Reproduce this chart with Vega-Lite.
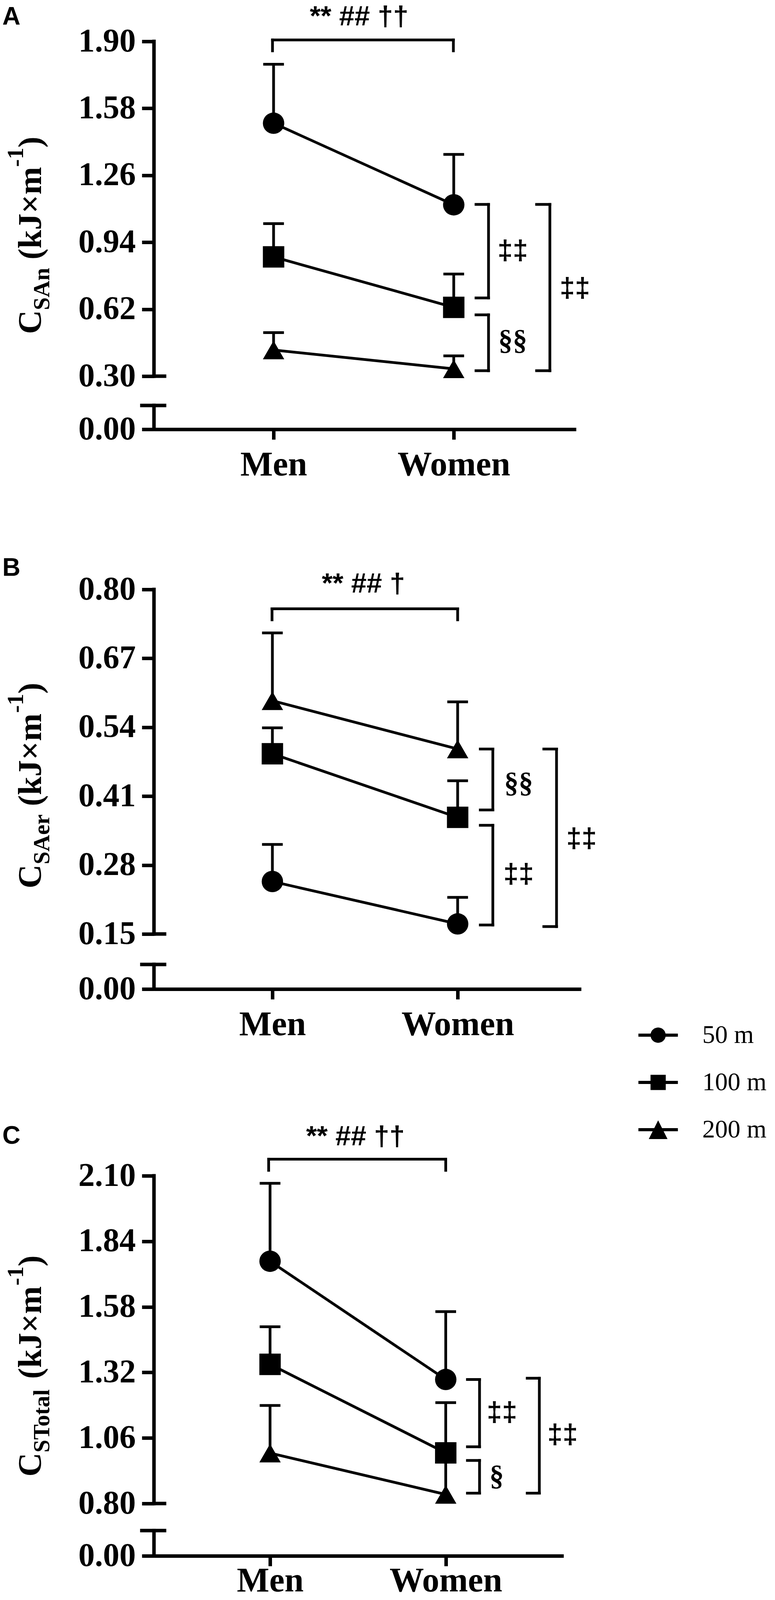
{
  "$schema": "https://vega.github.io/schema/vega-lite/v6.json",
  "background": "white",
  "padding": {"left": 5, "top": 8, "right": 0, "bottom": 0},
  "config": {
    "view": {"stroke": null},
    "axis": {"grid": false, "domainColor": "black", "tickColor": "black", "labelColor": "black", "labelFont": "Liberation Serif", "labelFontWeight": "bold", "labelFlush": false, "labelOverlap": false, "labelBound": false, "labelLimit": 0}
  },
  "datasets": {
    "pts": [
      {"panel": "A", "dist": "50 m", "grp": 1, "sex": "Men", "mean": 1.509, "upper": 1.791},
      {"panel": "A", "dist": "50 m", "grp": 2, "sex": "Women", "mean": 1.119, "upper": 1.36},
      {"panel": "A", "dist": "100 m", "grp": 1, "sex": "Men", "mean": 0.87, "upper": 1.029},
      {"panel": "A", "dist": "100 m", "grp": 2, "sex": "Women", "mean": 0.629, "upper": 0.788},
      {"panel": "A", "dist": "200 m", "grp": 1, "sex": "Men", "mean": 0.425, "upper": 0.508},
      {"panel": "A", "dist": "200 m", "grp": 2, "sex": "Women", "mean": 0.335, "upper": 0.397},
      {"panel": "B", "dist": "50 m", "grp": 1, "sex": "Men", "mean": 0.249, "upper": 0.319},
      {"panel": "B", "dist": "50 m", "grp": 2, "sex": "Women", "mean": 0.169, "upper": 0.219},
      {"panel": "B", "dist": "100 m", "grp": 1, "sex": "Men", "mean": 0.49, "upper": 0.539},
      {"panel": "B", "dist": "100 m", "grp": 2, "sex": "Women", "mean": 0.37, "upper": 0.439},
      {"panel": "B", "dist": "200 m", "grp": 1, "sex": "Men", "mean": 0.59, "upper": 0.718},
      {"panel": "B", "dist": "200 m", "grp": 2, "sex": "Women", "mean": 0.499, "upper": 0.588},
      {"panel": "C", "dist": "50 m", "grp": 1, "sex": "Men", "mean": 1.761, "upper": 2.07},
      {"panel": "C", "dist": "50 m", "grp": 2, "sex": "Women", "mean": 1.292, "upper": 1.561},
      {"panel": "C", "dist": "100 m", "grp": 1, "sex": "Men", "mean": 1.352, "upper": 1.501},
      {"panel": "C", "dist": "100 m", "grp": 2, "sex": "Women", "mean": 1.001, "upper": 1.2},
      {"panel": "C", "dist": "200 m", "grp": 1, "sex": "Men", "mean": 1.0, "upper": 1.189},
      {"panel": "C", "dist": "200 m", "grp": 2, "sex": "Women", "mean": 0.836, "upper": 1.03}
    ],
    "seg": [
      {"panel": "A", "kind": "axis", "x": 0.3362, "x2": 0.3362, "y": 0.3, "y2": 1.9},
      {"panel": "A", "kind": "axis", "x": 0.3362, "x2": 0.3362, "y": 0, "y2": 0.1347},
      {"panel": "A", "kind": "axis", "x": 0.3362, "x2": 0.3948, "y": 0.3, "y2": 0.3},
      {"panel": "A", "kind": "axis", "x": 0.269, "x2": 0.3948, "y": 0.1347, "y2": 0.1347},
      {"panel": "A", "kind": "br", "x": 0.994, "x2": 0.994, "y": 1.855, "y2": 1.907},
      {"panel": "A", "kind": "br", "x": 0.994, "x2": 1.998, "y": 1.907, "y2": 1.907},
      {"panel": "A", "kind": "br", "x": 1.998, "x2": 1.998, "y": 1.907, "y2": 1.855},
      {"panel": "A", "kind": "br", "x": 2.1236, "x2": 2.1931, "y": 1.121, "y2": 1.121},
      {"panel": "A", "kind": "br", "x": 2.1931, "x2": 2.1931, "y": 1.121, "y2": 0.674},
      {"panel": "A", "kind": "br", "x": 2.1236, "x2": 2.1931, "y": 0.674, "y2": 0.674},
      {"panel": "A", "kind": "br", "x": 2.1236, "x2": 2.1931, "y": 0.593, "y2": 0.593},
      {"panel": "A", "kind": "br", "x": 2.1931, "x2": 2.1931, "y": 0.593, "y2": 0.326},
      {"panel": "A", "kind": "br", "x": 2.1236, "x2": 2.1931, "y": 0.326, "y2": 0.326},
      {"panel": "A", "kind": "br", "x": 2.4599, "x2": 2.5336, "y": 1.121, "y2": 1.121},
      {"panel": "A", "kind": "br", "x": 2.5336, "x2": 2.5336, "y": 1.121, "y2": 0.326},
      {"panel": "A", "kind": "br", "x": 2.4599, "x2": 2.5336, "y": 0.326, "y2": 0.326},
      {"panel": "B", "kind": "axis", "x": 0.3608, "x2": 0.3608, "y": 0.15, "y2": 0.8},
      {"panel": "B", "kind": "axis", "x": 0.3608, "x2": 0.3608, "y": 0, "y2": 0.0671},
      {"panel": "B", "kind": "axis", "x": 0.3608, "x2": 0.4178, "y": 0.15, "y2": 0.15},
      {"panel": "B", "kind": "axis", "x": 0.2954, "x2": 0.4178, "y": 0.0671, "y2": 0.0671},
      {"panel": "B", "kind": "br", "x": 0.998, "x2": 0.998, "y": 0.7427, "y2": 0.7635},
      {"panel": "B", "kind": "br", "x": 0.998, "x2": 2.0, "y": 0.7635, "y2": 0.7635},
      {"panel": "B", "kind": "br", "x": 2.0, "x2": 2.0, "y": 0.7635, "y2": 0.7427},
      {"panel": "B", "kind": "br", "x": 2.1224, "x2": 2.1899, "y": 0.499, "y2": 0.499},
      {"panel": "B", "kind": "br", "x": 2.1899, "x2": 2.1899, "y": 0.499, "y2": 0.384},
      {"panel": "B", "kind": "br", "x": 2.1224, "x2": 2.1899, "y": 0.384, "y2": 0.384},
      {"panel": "B", "kind": "br", "x": 2.1224, "x2": 2.1899, "y": 0.355, "y2": 0.355},
      {"panel": "B", "kind": "br", "x": 2.1899, "x2": 2.1899, "y": 0.355, "y2": 0.167},
      {"panel": "B", "kind": "br", "x": 2.1224, "x2": 2.1899, "y": 0.167, "y2": 0.167},
      {"panel": "B", "kind": "br", "x": 2.4652, "x2": 2.5338, "y": 0.499, "y2": 0.499},
      {"panel": "B", "kind": "br", "x": 2.5338, "x2": 2.5338, "y": 0.499, "y2": 0.164},
      {"panel": "B", "kind": "br", "x": 2.4652, "x2": 2.5338, "y": 0.164, "y2": 0.164},
      {"panel": "C", "kind": "axis", "x": 0.3393, "x2": 0.3393, "y": 0.8, "y2": 2.1},
      {"panel": "C", "kind": "axis", "x": 0.3393, "x2": 0.3393, "y": 0, "y2": 0.386},
      {"panel": "C", "kind": "axis", "x": 0.3393, "x2": 0.3993, "y": 0.8, "y2": 0.8},
      {"panel": "C", "kind": "axis", "x": 0.2703, "x2": 0.3993, "y": 0.386, "y2": 0.386},
      {"panel": "C", "kind": "br", "x": 0.992, "x2": 0.992, "y": 2.1216, "y2": 2.166},
      {"panel": "C", "kind": "br", "x": 0.992, "x2": 2.0, "y": 2.166, "y2": 2.166},
      {"panel": "C", "kind": "br", "x": 2.0, "x2": 2.0, "y": 2.166, "y2": 2.1216},
      {"panel": "C", "kind": "br", "x": 2.1235, "x2": 2.1924, "y": 1.292, "y2": 1.292},
      {"panel": "C", "kind": "br", "x": 2.1924, "x2": 2.1924, "y": 1.292, "y2": 1.025},
      {"panel": "C", "kind": "br", "x": 2.1235, "x2": 2.1924, "y": 1.025, "y2": 1.025},
      {"panel": "C", "kind": "br", "x": 2.1235, "x2": 2.1924, "y": 0.971, "y2": 0.971},
      {"panel": "C", "kind": "br", "x": 2.1924, "x2": 2.1924, "y": 0.971, "y2": 0.841},
      {"panel": "C", "kind": "br", "x": 2.1235, "x2": 2.1924, "y": 0.841, "y2": 0.841},
      {"panel": "C", "kind": "br", "x": 2.4638, "x2": 2.5328, "y": 1.297, "y2": 1.297},
      {"panel": "C", "kind": "br", "x": 2.5328, "x2": 2.5328, "y": 1.297, "y2": 0.841},
      {"panel": "C", "kind": "br", "x": 2.4638, "x2": 2.5328, "y": 0.841, "y2": 0.841}
    ],
    "txt": [
      {"panel": "A", "kind": "letter", "text": "A", "x": -0.5054, "y": 1.9797},
      {"panel": "A", "kind": "sig", "text": "** ## ††", "x": 1.475, "y": 1.9762},
      {"panel": "A", "kind": "dd", "text": "‡‡", "x": 2.3275, "y": 0.8974},
      {"panel": "A", "kind": "sec", "text": "§§", "x": 2.3275, "y": 0.468},
      {"panel": "A", "kind": "dd", "text": "‡‡", "x": 2.6725, "y": 0.719},
      {"panel": "A", "kind": "tmain", "text": "C", "x": -0.2907, "y": 0.501},
      {"panel": "A", "kind": "tsmall", "text": "SAn", "x": -0.2451, "y": 0.6156},
      {"panel": "A", "kind": "tmain", "text": "(kJ×m", "x": -0.2907, "y": 0.8573},
      {"panel": "A", "kind": "tsmall", "text": "-1", "x": -0.3905, "y": 1.3004},
      {"panel": "A", "kind": "tmain", "text": ")", "x": -0.2907, "y": 1.3921},
      {"panel": "B", "kind": "letter", "text": "B", "x": -0.4578, "y": 0.8259},
      {"panel": "B", "kind": "sig", "text": "** ## †", "x": 1.4916, "y": 0.7939},
      {"panel": "B", "kind": "sec", "text": "§§", "x": 2.3291, "y": 0.4334},
      {"panel": "B", "kind": "dd", "text": "‡‡", "x": 2.3291, "y": 0.2621},
      {"panel": "B", "kind": "dd", "text": "‡‡", "x": 2.6688, "y": 0.329},
      {"panel": "B", "kind": "tmain", "text": "C", "x": -0.2489, "y": 0.2359},
      {"panel": "B", "kind": "tsmall", "text": "SAer", "x": -0.2046, "y": 0.2814},
      {"panel": "B", "kind": "tmain", "text": "(kJ×m", "x": -0.2489, "y": 0.3912},
      {"panel": "B", "kind": "tsmall", "text": "-1", "x": -0.346, "y": 0.5671},
      {"panel": "B", "kind": "tmain", "text": ")", "x": -0.2489, "y": 0.6033},
      {"panel": "C", "kind": "letter", "text": "C", "x": -0.5239, "y": 2.2264},
      {"panel": "C", "kind": "sig", "text": "** ## ††", "x": 1.4861, "y": 2.2207},
      {"panel": "C", "kind": "dd", "text": "‡‡", "x": 2.3204, "y": 1.1596},
      {"panel": "C", "kind": "sec", "text": "§", "x": 2.29, "y": 0.9075},
      {"panel": "C", "kind": "dd", "text": "‡‡", "x": 2.6652, "y": 1.0713},
      {"panel": "C", "kind": "tmain", "text": "C", "x": -0.3037, "y": 0.9064},
      {"panel": "C", "kind": "tsmall", "text": "STotal", "x": -0.257, "y": 1.0021},
      {"panel": "C", "kind": "tmain", "text": "(kJ×m", "x": -0.3037, "y": 1.2943},
      {"panel": "C", "kind": "tsmall", "text": "-1", "x": -0.406, "y": 1.6645},
      {"panel": "C", "kind": "tmain", "text": ")", "x": -0.3037, "y": 1.7407}
    ]
  },
  "spacing": 410,
  "bounds": "flush",
  "resolve": {"scale": {"shape": "independent"}},
  "vconcat": [
    {
      "width": 1080,
      "height": 993,
      "layer": [
        {
          "data": {"name": "seg"},
          "transform": [{"filter": "datum.panel === 'A' && datum.kind === 'axis'"}],
          "mark": {"type": "rule", "strokeWidth": 9, "strokeCap": "square", "color": "black"},
          "encoding": {
            "x": {"field": "x", "type": "quantitative", "scale": {"domain": [0.3362, 2.679], "nice": false, "zero": false},
              "axis": {"title": null, "values": [1, 2], "labelExpr": "datum.value === 1 ? 'Men' : 'Women'", "domainWidth": 9, "tickWidth": 9, "tickSize": 26, "labelFontSize": 88, "labelPadding": 21}},
            "x2": {"field": "x2"},
            "y": {"field": "y", "type": "quantitative", "scale": {"domain": [0, 0.3, 1.9], "range": [993, 857, 0], "nice": false, "zero": false},
              "axis": {"title": null, "values": [0, 0.3, 0.62, 0.94, 1.26, 1.58, 1.9], "format": ".2f", "domain": false, "tickWidth": 9, "tickSize": 31, "labelFontSize": 84, "labelPadding": 16}},
            "y2": {"field": "y2"}
          }
        },
        {
          "data": {"name": "seg"},
          "transform": [{"filter": "datum.panel === 'A' && datum.kind === 'br'"}],
          "mark": {"type": "rule", "strokeWidth": 7, "strokeCap": "square", "color": "black"},
          "encoding": {"x": {"field": "x", "type": "quantitative"}, "x2": {"field": "x2"}, "y": {"field": "y", "type": "quantitative"}, "y2": {"field": "y2"}}
        },
        {
          "data": {"name": "pts"},
          "transform": [{"filter": "datum.panel === 'A'"}],
          "mark": {"type": "rule", "strokeWidth": 7, "color": "black"},
          "encoding": {"x": {"field": "grp", "type": "quantitative"}, "y": {"field": "mean", "type": "quantitative"}, "y2": {"field": "upper"}}
        },
        {
          "data": {"name": "pts"},
          "transform": [{"filter": "datum.panel === 'A'"}],
          "mark": {"type": "tick", "orient": "horizontal", "size": 53, "thickness": 7, "color": "black", "opacity": 1},
          "encoding": {"x": {"field": "grp", "type": "quantitative"}, "y": {"field": "upper", "type": "quantitative"}}
        },
        {
          "data": {"name": "pts"},
          "transform": [{"filter": "datum.panel === 'A'"}],
          "mark": {"type": "line", "strokeWidth": 7, "color": "black"},
          "encoding": {"x": {"field": "grp", "type": "quantitative"}, "y": {"field": "mean", "type": "quantitative"}, "detail": {"field": "dist"}}
        },
        {
          "data": {"name": "pts"},
          "transform": [{"filter": "datum.panel === 'A'"}],
          "mark": {"type": "point", "filled": true, "size": 3000, "color": "black", "opacity": 1},
          "encoding": {
            "x": {"field": "grp", "type": "quantitative"},
            "y": {"field": "mean", "type": "quantitative"},
            "shape": {"field": "dist", "type": "nominal", "scale": {"domain": ["50 m", "100 m", "200 m"], "range": ["circle", "square", "triangle-up"]}, "legend": null}
          }
        },
        {
          "data": {"name": "txt"},
          "transform": [{"filter": "datum.panel === 'A' && datum.kind === 'letter'"}],
          "mark": {"type": "text", "font": "Liberation Sans", "fontWeight": "bold", "fontSize": 64, "align": "left", "baseline": "alphabetic", "color": "black"},
          "encoding": {"x": {"field": "x", "type": "quantitative"}, "y": {"field": "y", "type": "quantitative"}, "text": {"field": "text"}}
        },
        {
          "data": {"name": "txt"},
          "transform": [{"filter": "datum.panel === 'A' && datum.kind === 'sig'"}],
          "mark": {"type": "text", "font": "Liberation Sans", "fontWeight": "bold", "fontSize": 71, "align": "center", "baseline": "alphabetic", "color": "black"},
          "encoding": {"x": {"field": "x", "type": "quantitative"}, "y": {"field": "y", "type": "quantitative"}, "text": {"field": "text"}}
        },
        {
          "data": {"name": "txt"},
          "transform": [{"filter": "datum.panel === 'A' && datum.kind === 'dd'"}],
          "mark": {"type": "text", "font": "Liberation Sans", "fontWeight": "bold", "fontSize": 70, "align": "center", "baseline": "middle", "color": "black"},
          "encoding": {"x": {"field": "x", "type": "quantitative"}, "y": {"field": "y", "type": "quantitative"}, "text": {"field": "text"}}
        },
        {
          "data": {"name": "txt"},
          "transform": [{"filter": "datum.panel === 'A' && datum.kind === 'sec'"}],
          "mark": {"type": "text", "font": "Liberation Serif", "fontWeight": "bold", "fontSize": 74, "align": "center", "baseline": "middle", "color": "black"},
          "encoding": {"x": {"field": "x", "type": "quantitative"}, "y": {"field": "y", "type": "quantitative"}, "text": {"field": "text"}}
        },
        {
          "data": {"name": "txt"},
          "transform": [{"filter": "datum.panel === 'A' && datum.kind === 'tmain'"}],
          "mark": {"type": "text", "font": "Liberation Serif", "fontWeight": "bold", "fontSize": 85, "angle": 270, "align": "left", "baseline": "alphabetic", "color": "black"},
          "encoding": {"x": {"field": "x", "type": "quantitative"}, "y": {"field": "y", "type": "quantitative"}, "text": {"field": "text"}}
        },
        {
          "data": {"name": "txt"},
          "transform": [{"filter": "datum.panel === 'A' && datum.kind === 'tsmall'"}],
          "mark": {"type": "text", "font": "Liberation Serif", "fontWeight": "bold", "fontSize": 59, "angle": 270, "align": "left", "baseline": "alphabetic", "color": "black"},
          "encoding": {"x": {"field": "x", "type": "quantitative"}, "y": {"field": "y", "type": "quantitative"}, "text": {"field": "text"}}
        }
      ]
    },
    {
      "spacing": 478,
      "bounds": "flush",
      "resolve": {"scale": {"shape": "independent"}},
      "vconcat": [
        {
          "width": 1093,
          "height": 1023,
          "resolve": {"scale": {"shape": "independent"}},
          "layer": [
            {
              "data": {"name": "seg"},
              "transform": [{"filter": "datum.panel === 'B' && datum.kind === 'axis'"}],
              "mark": {"type": "rule", "strokeWidth": 9, "strokeCap": "square", "color": "black"},
              "encoding": {
                "x": {"field": "x", "type": "quantitative", "scale": {"domain": [0.3608, 2.6667], "nice": false, "zero": false},
                  "axis": {"title": null, "values": [1, 2], "labelExpr": "datum.value === 1 ? 'Men' : 'Women'", "domainWidth": 9, "tickWidth": 9, "tickSize": 26, "labelFontSize": 88, "labelPadding": 21}},
                "x2": {"field": "x2"},
                "y": {"field": "y", "type": "quantitative", "scale": {"domain": [0, 0.15, 0.8], "range": [1023, 882, 0], "nice": false, "zero": false},
                  "axis": {"title": null, "values": [0, 0.15, 0.28, 0.41, 0.54, 0.67, 0.8], "format": ".2f", "domain": false, "tickWidth": 9, "tickSize": 31, "labelFontSize": 84, "labelPadding": 16}},
                "y2": {"field": "y2"}
              }
            },
            {
              "data": {"name": "seg"},
              "transform": [{"filter": "datum.panel === 'B' && datum.kind === 'br'"}],
              "mark": {"type": "rule", "strokeWidth": 7, "strokeCap": "square", "color": "black"},
              "encoding": {"x": {"field": "x", "type": "quantitative"}, "x2": {"field": "x2"}, "y": {"field": "y", "type": "quantitative"}, "y2": {"field": "y2"}}
            },
            {
              "data": {"name": "pts"},
              "transform": [{"filter": "datum.panel === 'B'"}],
              "mark": {"type": "rule", "strokeWidth": 7, "color": "black"},
              "encoding": {"x": {"field": "grp", "type": "quantitative"}, "y": {"field": "mean", "type": "quantitative"}, "y2": {"field": "upper"}}
            },
            {
              "data": {"name": "pts"},
              "transform": [{"filter": "datum.panel === 'B'"}],
              "mark": {"type": "tick", "orient": "horizontal", "size": 53, "thickness": 7, "color": "black", "opacity": 1},
              "encoding": {"x": {"field": "grp", "type": "quantitative"}, "y": {"field": "upper", "type": "quantitative"}}
            },
            {
              "data": {"name": "pts"},
              "transform": [{"filter": "datum.panel === 'B'"}],
              "mark": {"type": "line", "strokeWidth": 7, "color": "black"},
              "encoding": {"x": {"field": "grp", "type": "quantitative"}, "y": {"field": "mean", "type": "quantitative"}, "detail": {"field": "dist"}}
            },
            {
              "data": {"name": "pts"},
              "transform": [{"filter": "datum.panel === 'B'"}],
              "mark": {"type": "point", "filled": true, "size": 3000, "color": "black", "opacity": 1},
              "encoding": {
                "x": {"field": "grp", "type": "quantitative"},
                "y": {"field": "mean", "type": "quantitative"},
                "shape": {"field": "dist", "type": "nominal", "scale": {"domain": ["50 m", "100 m", "200 m"], "range": ["circle", "square", "triangle-up"]}, "legend": null}
              }
            },
            {
              "data": {"name": "pts"},
              "transform": [{"filter": "datum.panel === 'B'"}],
              "mark": {"type": "point", "filled": true, "size": 10201, "color": "black", "opacity": 0},
              "encoding": {
                "x": {"field": "grp", "type": "quantitative"},
                "y": {"field": "mean", "type": "quantitative"},
                "shape": {"field": "dist", "type": "nominal",
                  "scale": {"domain": ["50 m", "100 m", "200 m"], "range": [
                    "M-1,-0.08H1V0.08H-1Z M0.386,0A0.386,0.386,0,1,1,-0.386,0A0.386,0.386,0,1,1,0.386,0Z",
                    "M-1,-0.08H1V0.08H-1Z M-0.386,-0.386H0.386V0.386H-0.386Z",
                    "M-1,-0.08H1V0.08H-1Z M0,-0.475L0.475,0.475L-0.475,0.475Z"]},
                  "legend": {
                    "title": null, "orient": "none", "legendX": 1239.5, "legendY": 1090.5, "direction": "vertical", "padding": 0,
                    "symbolSize": 10201, "symbolStrokeWidth": 0, "symbolFillColor": "black", "symbolOpacity": 1,
                    "labelFont": "Liberation Serif", "labelFontSize": 65, "labelFontWeight": "normal", "labelColor": "black", "labelOffset": 62.5, "labelLimit": 0, "rowPadding": 37
                  }}
              }
            },
            {
              "data": {"name": "txt"},
              "transform": [{"filter": "datum.panel === 'B' && datum.kind === 'letter'"}],
              "mark": {"type": "text", "font": "Liberation Sans", "fontWeight": "bold", "fontSize": 64, "align": "left", "baseline": "alphabetic", "color": "black"},
              "encoding": {"x": {"field": "x", "type": "quantitative"}, "y": {"field": "y", "type": "quantitative"}, "text": {"field": "text"}}
            },
            {
              "data": {"name": "txt"},
              "transform": [{"filter": "datum.panel === 'B' && datum.kind === 'sig'"}],
              "mark": {"type": "text", "font": "Liberation Sans", "fontWeight": "bold", "fontSize": 71, "align": "center", "baseline": "alphabetic", "color": "black"},
              "encoding": {"x": {"field": "x", "type": "quantitative"}, "y": {"field": "y", "type": "quantitative"}, "text": {"field": "text"}}
            },
            {
              "data": {"name": "txt"},
              "transform": [{"filter": "datum.panel === 'B' && datum.kind === 'dd'"}],
              "mark": {"type": "text", "font": "Liberation Sans", "fontWeight": "bold", "fontSize": 70, "align": "center", "baseline": "middle", "color": "black"},
              "encoding": {"x": {"field": "x", "type": "quantitative"}, "y": {"field": "y", "type": "quantitative"}, "text": {"field": "text"}}
            },
            {
              "data": {"name": "txt"},
              "transform": [{"filter": "datum.panel === 'B' && datum.kind === 'sec'"}],
              "mark": {"type": "text", "font": "Liberation Serif", "fontWeight": "bold", "fontSize": 74, "align": "center", "baseline": "middle", "color": "black"},
              "encoding": {"x": {"field": "x", "type": "quantitative"}, "y": {"field": "y", "type": "quantitative"}, "text": {"field": "text"}}
            },
            {
              "data": {"name": "txt"},
              "transform": [{"filter": "datum.panel === 'B' && datum.kind === 'tmain'"}],
              "mark": {"type": "text", "font": "Liberation Serif", "fontWeight": "bold", "fontSize": 85, "angle": 270, "align": "left", "baseline": "alphabetic", "color": "black"},
              "encoding": {"x": {"field": "x", "type": "quantitative"}, "y": {"field": "y", "type": "quantitative"}, "text": {"field": "text"}}
            },
            {
              "data": {"name": "txt"},
              "transform": [{"filter": "datum.panel === 'B' && datum.kind === 'tsmall'"}],
              "mark": {"type": "text", "font": "Liberation Serif", "fontWeight": "bold", "fontSize": 59, "angle": 270, "align": "left", "baseline": "alphabetic", "color": "black"},
              "encoding": {"x": {"field": "x", "type": "quantitative"}, "y": {"field": "y", "type": "quantitative"}, "text": {"field": "text"}}
            }
          ]
        },
        {
          "width": 1048,
          "height": 973,
          "layer": [
            {
              "data": {"name": "seg"},
              "transform": [{"filter": "datum.panel === 'C' && datum.kind === 'axis'"}],
              "mark": {"type": "rule", "strokeWidth": 9, "strokeCap": "square", "color": "black"},
              "encoding": {
                "x": {"field": "x", "type": "quantitative", "scale": {"domain": [0.3393, 2.6707], "nice": false, "zero": false},
                  "axis": {"title": null, "values": [1, 2], "labelExpr": "datum.value === 1 ? 'Men' : 'Women'", "domainWidth": 9, "tickWidth": 9, "tickSize": 26, "labelFontSize": 88, "labelPadding": -6}},
                "x2": {"field": "x2"},
                "y": {"field": "y", "type": "quantitative", "scale": {"domain": [0, 0.8, 2.1], "range": [973, 839, 0], "nice": false, "zero": false},
                  "axis": {"title": null, "values": [0, 0.8, 1.06, 1.32, 1.58, 1.84, 2.1], "format": ".2f", "domain": false, "tickWidth": 9, "tickSize": 31, "labelFontSize": 84, "labelPadding": 16}},
                "y2": {"field": "y2"}
              }
            },
            {
              "data": {"name": "seg"},
              "transform": [{"filter": "datum.panel === 'C' && datum.kind === 'br'"}],
              "mark": {"type": "rule", "strokeWidth": 7, "strokeCap": "square", "color": "black"},
              "encoding": {"x": {"field": "x", "type": "quantitative"}, "x2": {"field": "x2"}, "y": {"field": "y", "type": "quantitative"}, "y2": {"field": "y2"}}
            },
            {
              "data": {"name": "pts"},
              "transform": [{"filter": "datum.panel === 'C'"}],
              "mark": {"type": "rule", "strokeWidth": 7, "color": "black"},
              "encoding": {"x": {"field": "grp", "type": "quantitative"}, "y": {"field": "mean", "type": "quantitative"}, "y2": {"field": "upper"}}
            },
            {
              "data": {"name": "pts"},
              "transform": [{"filter": "datum.panel === 'C'"}],
              "mark": {"type": "tick", "orient": "horizontal", "size": 53, "thickness": 7, "color": "black", "opacity": 1},
              "encoding": {"x": {"field": "grp", "type": "quantitative"}, "y": {"field": "upper", "type": "quantitative"}}
            },
            {
              "data": {"name": "pts"},
              "transform": [{"filter": "datum.panel === 'C'"}],
              "mark": {"type": "line", "strokeWidth": 7, "color": "black"},
              "encoding": {"x": {"field": "grp", "type": "quantitative"}, "y": {"field": "mean", "type": "quantitative"}, "detail": {"field": "dist"}}
            },
            {
              "data": {"name": "pts"},
              "transform": [{"filter": "datum.panel === 'C'"}],
              "mark": {"type": "point", "filled": true, "size": 3000, "color": "black", "opacity": 1},
              "encoding": {
                "x": {"field": "grp", "type": "quantitative"},
                "y": {"field": "mean", "type": "quantitative"},
                "shape": {"field": "dist", "type": "nominal", "scale": {"domain": ["50 m", "100 m", "200 m"], "range": ["circle", "square", "triangle-up"]}, "legend": null}
              }
            },
            {
              "data": {"name": "txt"},
              "transform": [{"filter": "datum.panel === 'C' && datum.kind === 'letter'"}],
              "mark": {"type": "text", "font": "Liberation Sans", "fontWeight": "bold", "fontSize": 64, "align": "left", "baseline": "alphabetic", "color": "black"},
              "encoding": {"x": {"field": "x", "type": "quantitative"}, "y": {"field": "y", "type": "quantitative"}, "text": {"field": "text"}}
            },
            {
              "data": {"name": "txt"},
              "transform": [{"filter": "datum.panel === 'C' && datum.kind === 'sig'"}],
              "mark": {"type": "text", "font": "Liberation Sans", "fontWeight": "bold", "fontSize": 71, "align": "center", "baseline": "alphabetic", "color": "black"},
              "encoding": {"x": {"field": "x", "type": "quantitative"}, "y": {"field": "y", "type": "quantitative"}, "text": {"field": "text"}}
            },
            {
              "data": {"name": "txt"},
              "transform": [{"filter": "datum.panel === 'C' && datum.kind === 'dd'"}],
              "mark": {"type": "text", "font": "Liberation Sans", "fontWeight": "bold", "fontSize": 70, "align": "center", "baseline": "middle", "color": "black"},
              "encoding": {"x": {"field": "x", "type": "quantitative"}, "y": {"field": "y", "type": "quantitative"}, "text": {"field": "text"}}
            },
            {
              "data": {"name": "txt"},
              "transform": [{"filter": "datum.panel === 'C' && datum.kind === 'sec'"}],
              "mark": {"type": "text", "font": "Liberation Serif", "fontWeight": "bold", "fontSize": 74, "align": "center", "baseline": "middle", "color": "black"},
              "encoding": {"x": {"field": "x", "type": "quantitative"}, "y": {"field": "y", "type": "quantitative"}, "text": {"field": "text"}}
            },
            {
              "data": {"name": "txt"},
              "transform": [{"filter": "datum.panel === 'C' && datum.kind === 'tmain'"}],
              "mark": {"type": "text", "font": "Liberation Serif", "fontWeight": "bold", "fontSize": 85, "angle": 270, "align": "left", "baseline": "alphabetic", "color": "black"},
              "encoding": {"x": {"field": "x", "type": "quantitative"}, "y": {"field": "y", "type": "quantitative"}, "text": {"field": "text"}}
            },
            {
              "data": {"name": "txt"},
              "transform": [{"filter": "datum.panel === 'C' && datum.kind === 'tsmall'"}],
              "mark": {"type": "text", "font": "Liberation Serif", "fontWeight": "bold", "fontSize": 59, "angle": 270, "align": "left", "baseline": "alphabetic", "color": "black"},
              "encoding": {"x": {"field": "x", "type": "quantitative"}, "y": {"field": "y", "type": "quantitative"}, "text": {"field": "text"}}
            }
          ]
        }
      ]
    }
  ]
}
